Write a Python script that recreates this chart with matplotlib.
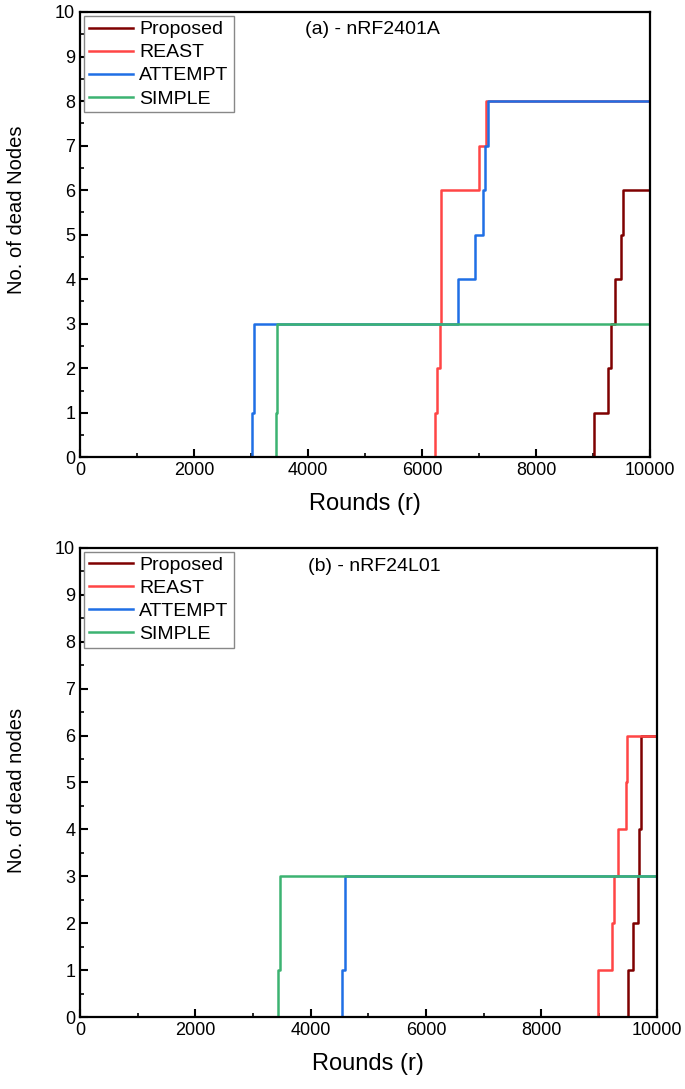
import matplotlib
matplotlib.use('Agg')
import matplotlib.pyplot as plt
from matplotlib.ticker import MultipleLocator

plt.rcParams['font.family'] = ['Liberation Sans', 'DejaVu Sans']

labels = ['Proposed', 'REAST', 'ATTEMPT', 'SIMPLE']
colors = ['#7f0000', '#ff4545', '#1f6fe5', '#3cb371']

# (a) nRF2401A  -- step points (round, dead nodes)
a_prop_x = [0, 9020, 9260, 9310, 9390, 9490, 9530, 10000]
a_prop_y = [0, 1, 2, 3, 4, 5, 6, 6]
a_reast_x = [0, 6230, 6270, 6310, 6330, 7000, 7120, 10000]
a_reast_y = [0, 1, 2, 3, 6, 7, 8, 8]
a_att_x = [0, 3020, 3060, 6630, 6930, 7070, 7100, 7150, 10000]
a_att_y = [0, 1, 3, 4, 5, 6, 7, 8, 8]
a_simp_x = [0, 3440, 3460, 10000]
a_simp_y = [0, 1, 3, 3]

# (b) nRF24L01
b_prop_x = [0, 9500, 9590, 9670, 9700, 9720, 10000]
b_prop_y = [0, 1, 2, 3, 4, 6, 6]
b_reast_x = [0, 8975, 9220, 9260, 9320, 9460, 9485, 10000]
b_reast_y = [0, 1, 2, 3, 4, 5, 6, 6]
b_att_x = [0, 4550, 4600, 10000]
b_att_y = [0, 1, 3, 3]
b_simp_x = [0, 3440, 3470, 10000]
b_simp_y = [0, 1, 3, 3]

panels = [
    ([(a_prop_x, a_prop_y), (a_reast_x, a_reast_y), (a_att_x, a_att_y), (a_simp_x, a_simp_y)],
     '(a) - nRF2401A', 'No. of dead Nodes', [0.1168, 0.580, 0.832, 0.409], 0.555),
    ([(b_prop_x, b_prop_y), (b_reast_x, b_reast_y), (b_att_x, b_att_y), (b_simp_x, b_simp_y)],
     '(b) - nRF24L01', 'No. of dead nodes', [0.1168, 0.066, 0.842, 0.431], 0.484),
]

fig = plt.figure(figsize=(6.85, 10.89), dpi=100)

for series, title, ylab, rect, ly in panels:
    ax = fig.add_axes(rect)
    for (xs, ys), lab, col in zip(series, labels, colors):
        ax.plot(xs, ys, drawstyle='steps-post', color=col, lw=1.8, label=lab)
    ax.set_xlim(0, 10000)
    ax.set_ylim(0, 10)
    ax.xaxis.set_major_locator(MultipleLocator(2000))
    ax.xaxis.set_minor_locator(MultipleLocator(1000))
    ax.yaxis.set_major_locator(MultipleLocator(1))
    ax.yaxis.set_minor_locator(MultipleLocator(0.5))
    ax.tick_params(which='major', direction='in', length=6, width=1.5, labelsize=13)
    ax.tick_params(which='minor', direction='in', length=3, width=1.2)
    for sp in ax.spines.values():
        sp.set_linewidth(1.6)
    ax.set_xlabel('Rounds (r)', fontsize=17, labelpad=10)
    ax.set_ylabel(ylab, fontsize=14.5)
    ax.yaxis.set_label_coords(-0.094, ly)
    ax.text(3950, 9.6, title, fontsize=14, va='center')
    leg = ax.legend(loc='upper left', fontsize=14, fancybox=False, framealpha=1,
                    edgecolor='#888888', borderpad=0.25, labelspacing=0.28,
                    handlelength=2.25, handletextpad=0.35, borderaxespad=0.2)
    leg.get_frame().set_linewidth(1.0)

fig.savefig('out.png', dpi=100)
